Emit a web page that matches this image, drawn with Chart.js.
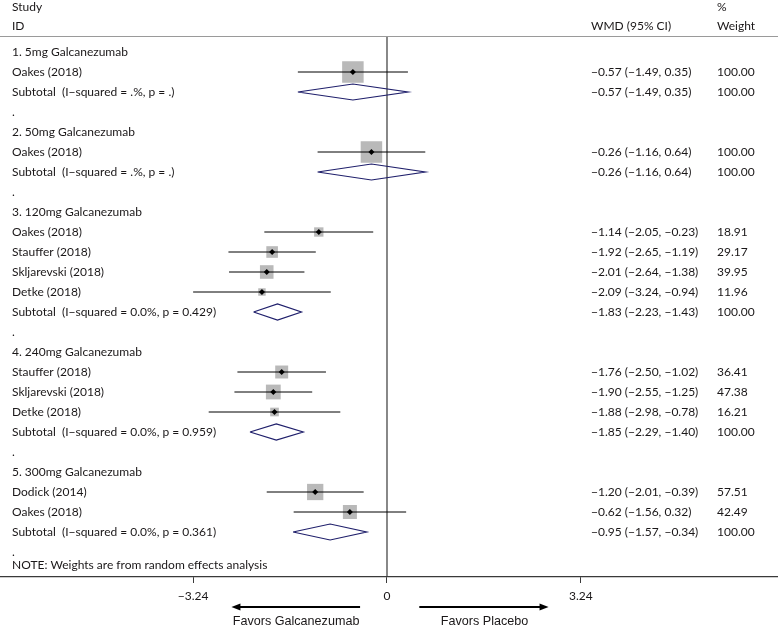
<!DOCTYPE html>
<html>
<head>
<meta charset="utf-8">
<script src="https://cdn.jsdelivr.net/npm/chart.js@4"></script>
<style>
  body { margin: 0; background: #fff; }
  #wrap { width: 778px; height: 629px; position: relative; }
</style>
</head>
<body>
<div id="wrap"><canvas id="forest"></canvas></div>
<script>
// row labels, one per line of the plot (row index = position from the top)
const rowLabels = [
  '1. 5mg Galcanezumab', 'Oakes (2018)', 'Subtotal  (I\u2212squared = .%, p = .)', '.',
  '2. 50mg Galcanezumab', 'Oakes (2018)', 'Subtotal  (I\u2212squared = .%, p = .)', '.',
  '3. 120mg Galcanezumab', 'Oakes (2018)', 'Stauffer (2018)', 'Skljarevski (2018)', 'Detke (2018)',
  'Subtotal  (I\u2212squared = 0.0%, p = 0.429)', '.',
  '4. 240mg Galcanezumab', 'Stauffer (2018)', 'Skljarevski (2018)', 'Detke (2018)',
  'Subtotal  (I\u2212squared = 0.0%, p = 0.959)', '.',
  '5. 300mg Galcanezumab', 'Dodick (2014)', 'Oakes (2018)',
  'Subtotal  (I\u2212squared = 0.0%, p = 0.361)', '.'
];

// individual studies
const studyRow    = [1, 5, 9, 10, 11, 12, 16, 17, 18, 22, 23];
const studyEst    = [-0.57, -0.26, -1.14, -1.92, -2.01, -2.09, -1.76, -1.90, -1.88, -1.20, -0.62];
const studyLo     = [-1.49, -1.16, -2.05, -2.65, -2.64, -3.24, -2.50, -2.55, -2.98, -2.01, -1.56];
const studyHi     = [0.35, 0.64, -0.23, -1.19, -1.38, -0.94, -1.02, -1.25, -0.78, -0.39, 0.32];
const studyWeight = [100.00, 100.00, 18.91, 29.17, 39.95, 11.96, 36.41, 47.38, 16.21, 57.51, 42.49];

// subgroup pooled estimates
const subRow    = [2, 6, 13, 19, 24];
const subEst    = [-0.57, -0.26, -1.83, -1.85, -0.95];
const subLo     = [-1.49, -1.16, -2.23, -2.29, -1.57];
const subHi     = [0.35, 0.64, -1.43, -1.40, -0.34];
const subWeight = [100.00, 100.00, 100.00, 100.00, 100.00];

const xTicks = [-3.24, 0, 3.24];

const FONT = '"Lato", "Open Sans", sans-serif';
const TXT = '#1a1718';

function fmt(v) {
  return (v < 0 ? '\u2212' : '') + Math.abs(v).toFixed(2);
}
function ciText(e, l, h) {
  return fmt(e) + ' (' + fmt(l) + ', ' + fmt(h) + ')';
}

const datasets = [];

// confidence interval lines
studyRow.forEach((r, i) => {
  datasets.push({
    type: 'line', data: [{ x: studyLo[i], y: r }, { x: studyHi[i], y: r }],
    borderColor: '#000', borderWidth: 1, pointRadius: 0, order: 3
  });
});

// weight boxes (side grows with sqrt of weight)
datasets.push({
  type: 'scatter',
  data: studyRow.map((r, i) => ({ x: studyEst[i], y: r })),
  pointStyle: 'rect',
  pointRadius: studyWeight.map(w => 2.15 * Math.sqrt(w) / Math.SQRT2),
  backgroundColor: '#b9b9b9', borderWidth: 0, order: 4
});

// point estimates
datasets.push({
  type: 'scatter',
  data: studyRow.map((r, i) => ({ x: studyEst[i], y: r })),
  pointStyle: 'rectRot', pointRadius: 3,
  backgroundColor: '#000', borderWidth: 0, order: 1
});

// subtotal diamonds
subRow.forEach((r, i) => {
  datasets.push({
    type: 'line',
    data: [
      { x: subLo[i], y: r }, { x: subEst[i], y: r - 0.4 }, { x: subHi[i], y: r },
      { x: subEst[i], y: r + 0.4 }, { x: subLo[i], y: r }
    ],
    borderColor: '#1f1f6b', borderWidth: 1.2, pointRadius: 0, tension: 0, order: 2
  });
});

// line of no effect
datasets.push({
  type: 'line', data: [{ x: 0, y: -0.75 }, { x: 0, y: 26.25 }],
  borderColor: '#3a3a3a', borderWidth: 1.2, pointRadius: 0, order: 5
});

const textPlugin = {
  id: 'forestText',
  afterDatasetsDraw(chart) {
    const { ctx, scales: { x, y } } = chart;
    ctx.save();
    ctx.fillStyle = TXT;
    ctx.font = '12px ' + FONT;
    ctx.textBaseline = 'middle';
    ctx.textAlign = 'left';

    // headers
    ctx.fillText('Study', 12, y.getPixelForValue(-2.25));
    ctx.fillText('ID', 12, y.getPixelForValue(-1.3));
    ctx.fillText('WMD (95% CI)', 591, y.getPixelForValue(-1.3));
    ctx.fillText('%', 717, y.getPixelForValue(-2.25));
    ctx.fillText('Weight', 717, y.getPixelForValue(-1.3));

    // header rule
    ctx.strokeStyle = '#9a9a9a';
    ctx.lineWidth = 1;
    ctx.beginPath();
    ctx.moveTo(0, Math.round(y.getPixelForValue(-0.75)) - 0.5);
    ctx.lineTo(778, Math.round(y.getPixelForValue(-0.75)) - 0.5);
    ctx.stroke();

    rowLabels.forEach((t, r) => ctx.fillText(t, 12, y.getPixelForValue(r)));
    ctx.fillText('NOTE: Weights are from random effects analysis', 12, y.getPixelForValue(25.65));

    studyRow.forEach((r, i) => {
      ctx.fillText(ciText(studyEst[i], studyLo[i], studyHi[i]), 591, y.getPixelForValue(r));
      ctx.fillText(studyWeight[i].toFixed(2), 717, y.getPixelForValue(r));
    });
    subRow.forEach((r, i) => {
      ctx.fillText(ciText(subEst[i], subLo[i], subHi[i]), 591, y.getPixelForValue(r));
      ctx.fillText(subWeight[i].toFixed(2), 717, y.getPixelForValue(r));
    });

    // favours arrows under the axis
    const ay = 607;
    const arrow = (from, to) => {
      const x0 = x.getPixelForValue(from), x1 = x.getPixelForValue(to);
      const dir = Math.sign(x1 - x0);
      ctx.strokeStyle = '#000';
      ctx.lineWidth = 2;
      ctx.beginPath();
      ctx.moveTo(x0, ay);
      ctx.lineTo(x1 - dir * 6, ay);
      ctx.stroke();
      ctx.fillStyle = '#000';
      ctx.beginPath();
      ctx.moveTo(x1, ay);
      ctx.lineTo(x1 - dir * 9, ay - 3.5);
      ctx.lineTo(x1 - dir * 9, ay + 3.5);
      ctx.closePath();
      ctx.fill();
    };
    arrow(-0.45, -2.6);
    arrow(0.54, 2.7);

    ctx.fillStyle = TXT;
    ctx.font = '12.6px "Liberation Sans", Arial, sans-serif';
    ctx.textAlign = 'center';
    ctx.fillText('Favors Galcanezumab', x.getPixelForValue(-1.52), 622);
    ctx.fillText('Favors Placebo', x.getPixelForValue(1.63), 622);
    ctx.restore();
  }
};

new Chart(document.getElementById('forest'), {
  type: 'scatter',
  data: { datasets },
  options: {
    responsive: true,
    maintainAspectRatio: false,
    animation: false,
    layout: { padding: 0, autoPadding: false },
    plugins: { legend: { display: false }, tooltip: { enabled: false } },
    scales: {
      x: {
        type: 'linear', min: -6.468, max: 6.535,
        afterBuildTicks: s => { s.ticks = xTicks.map(v => ({ value: v })); },
        afterFit: s => { s.height = 52; s.paddingLeft = 0; s.paddingRight = 0; },
        grid: { drawOnChartArea: false, drawTicks: true, tickLength: 6, color: '#3a3a3a' },
        border: { display: true, color: '#3a3a3a', width: 1.2 },
        ticks: {
          color: TXT, padding: 6,
          font: { family: FONT, size: 12 },
          callback: v => v === 0 ? '0' : fmt(v)
        }
      },
      y: { type: 'linear', display: false, reverse: true, min: -2.6, max: 26.25 }
    }
  },
  plugins: [textPlugin]
});
</script>
</body>
</html>
